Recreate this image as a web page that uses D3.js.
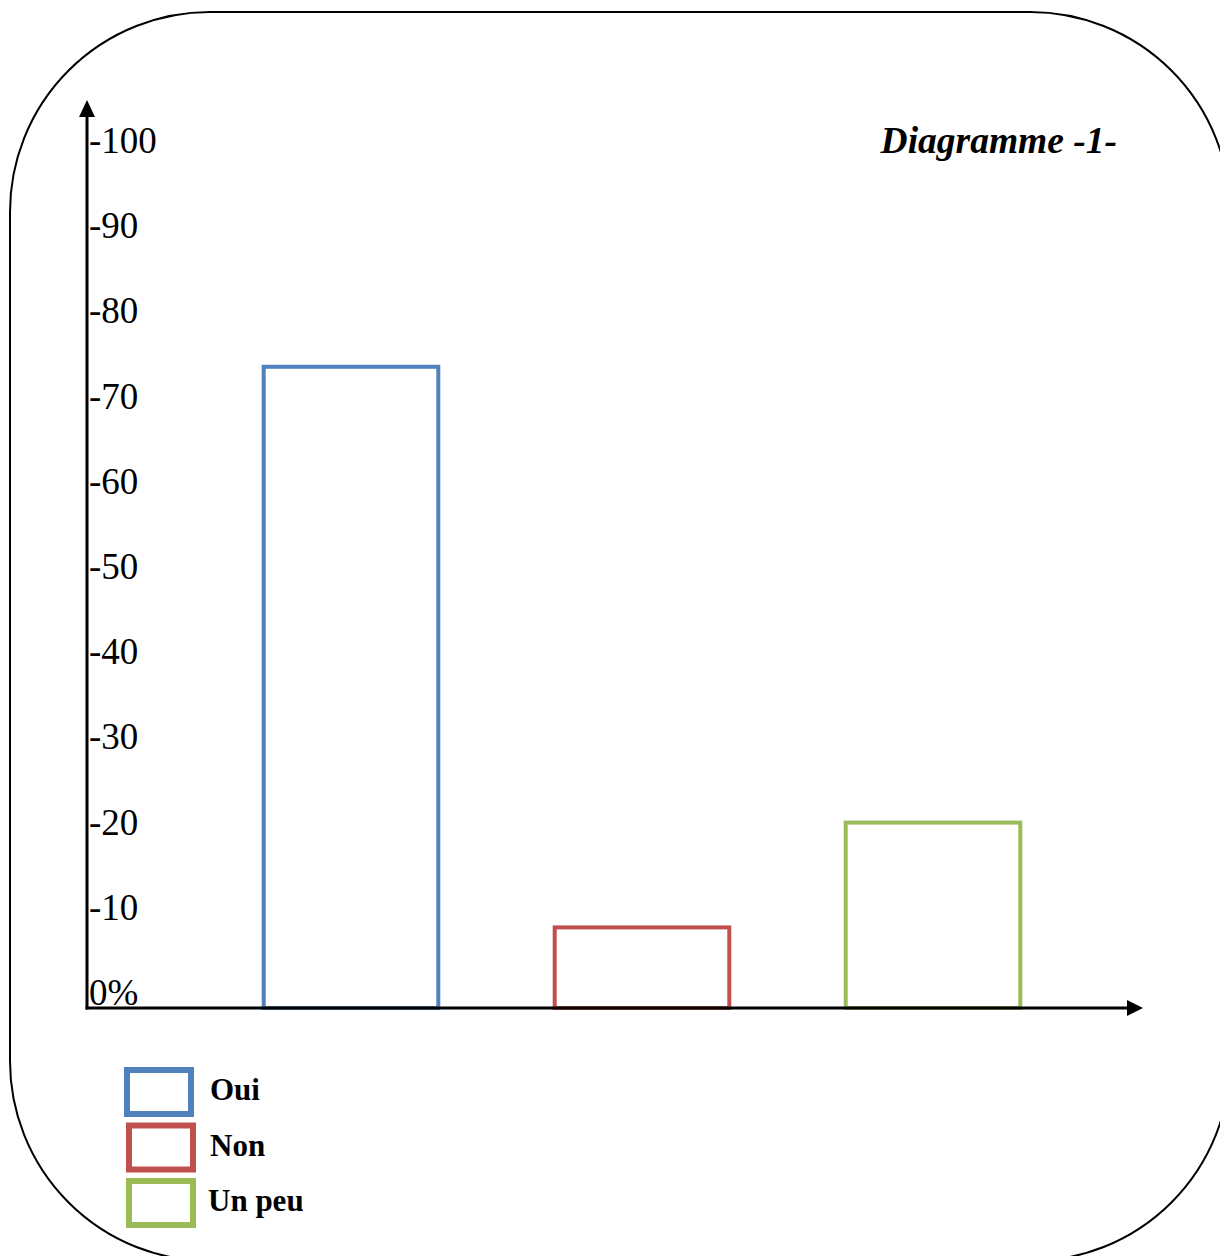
<!DOCTYPE html>
<html>
<head>
<meta charset="utf-8">
<script src="https://cdn.jsdelivr.net/npm/d3@7"></script>
<style>
  html, body { margin: 0; padding: 0; background: #fff; }
  svg { display: block; }
</style>
</head>
<body>
<div id="chart"></div>
<script>
// ---- data ----
const categories = ["Oui", "Non", "Un peu"];
const values = [73.5, 7.7, 20];
const colors = ["#4F81BD", "#C0504D", "#9BBB59"];
const tickValues = [0, 10, 20, 30, 40, 50, 60, 70, 80, 90, 100];
const tickLabels = ["0%", "-10", "-20", "-30", "-40", "-50", "-60", "-70", "-80", "-90", "-100"];
const title = "Diagramme -1-";

// ---- layout ----
const W = 1220, H = 1256;
const axisX = 87, axisY = 1008;
const serif = "'Liberation Serif', 'Times New Roman', serif";

const svg = d3.select("#chart").append("svg")
  .attr("width", W).attr("height", H);

// rounded frame
svg.append("rect")
  .attr("x", 10).attr("y", 12)
  .attr("width", 1220).attr("height", 1249)
  .attr("rx", 200).attr("ry", 200)
  .attr("fill", "none").attr("stroke", "#000").attr("stroke-width", 2);

const x = d3.scaleBand()
  .domain(categories)
  .range([205.5, 1078.5])
  .paddingInner(0.4)
  .paddingOuter(0.2);

const y = d3.scaleLinear().domain([0, 100]).range([993, 141]);

// bars
svg.selectAll("rect.bar")
  .data(categories)
  .join("rect")
  .attr("class", "bar")
  .attr("x", d => x(d))
  .attr("width", x.bandwidth())
  .attr("y", (d, i) => y(values[i]))
  .attr("height", (d, i) => axisY - y(values[i]))
  .attr("fill", "none")
  .attr("stroke", (d, i) => colors[i])
  .attr("stroke-width", 4);

// axes lines
const yTop = 117, xRight = 1127;
svg.append("line")
  .attr("x1", axisX).attr("x2", axisX)
  .attr("y1", axisY + 1.5).attr("y2", yTop)
  .attr("stroke", "#000").attr("stroke-width", 3);
svg.append("path")
  .attr("d", `M${axisX - 8},${yTop} L${axisX},${yTop - 17} L${axisX + 8},${yTop} Z`)
  .attr("fill", "#000");
svg.append("line")
  .attr("x1", axisX - 1.5).attr("x2", xRight)
  .attr("y1", axisY).attr("y2", axisY)
  .attr("stroke", "#000").attr("stroke-width", 3);
svg.append("path")
  .attr("d", `M${xRight},${axisY - 8} L${xRight + 16},${axisY} L${xRight},${axisY + 8} Z`)
  .attr("fill", "#000");

// tick labels
svg.selectAll("text.tick")
  .data(tickValues)
  .join("text")
  .attr("class", "tick")
  .attr("x", 89)
  .attr("y", d => y(d) + 12)
  .attr("font-family", serif)
  .attr("font-size", 37)
  .attr("fill", "#000")
  .text((d, i) => tickLabels[i]);

// title
svg.append("text")
  .attr("x", 1117).attr("y", 153)
  .attr("text-anchor", "end")
  .attr("font-family", serif)
  .attr("font-size", 37.5)
  .attr("font-weight", "bold")
  .attr("font-style", "italic")
  .text(title);

// legend
const legendTop = 1067, legendStep = 55.5;
const lg = svg.selectAll("g.legend")
  .data(categories)
  .join("g")
  .attr("class", "legend")
  .attr("transform", (d, i) => `translate(${124 + (i > 0 ? 2 : 0)},${legendTop + i * legendStep})`);
lg.append("rect")
  .attr("x", 3).attr("y", 3)
  .attr("width", 64).attr("height", 44)
  .attr("fill", "none")
  .attr("stroke", (d, i) => colors[i])
  .attr("stroke-width", 6);
lg.append("text")
  .attr("x", (d, i) => i === 0 ? 86 : (i === 2 ? 82 : 84))
  .attr("y", 33)
  .attr("font-family", serif)
  .attr("font-size", 31)
  .attr("font-weight", "bold")
  .text(d => d);
</script>
</body>
</html>
